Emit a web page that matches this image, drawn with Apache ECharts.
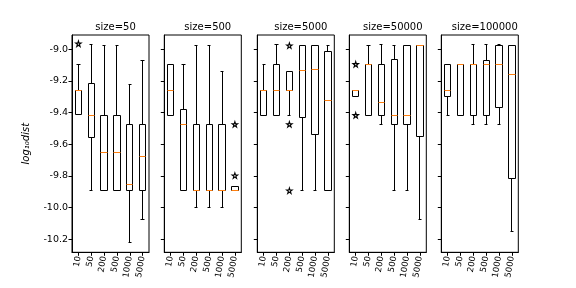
<!DOCTYPE html>
<html>
<head>
<meta charset="utf-8">
<script src="https://cdn.jsdelivr.net/npm/echarts@6/dist/echarts.min.js"></script>
<style>html,body{margin:0;padding:0;background:#fff}#c{width:576px;height:288px}</style>
</head>
<body>
<div id="c"></div>
<script>
// ---- data ----
const panelTitles = ['size=50', 'size=500', 'size=5000', 'size=50000', 'size=100000'];
const categories = ['10', '50', '200', '500', '1000', '5000'];
const yTicks = [-10.2, -10.0, -9.8, -9.6, -9.4, -9.2, -9.0];
// each row: [low whisker, Q1, median, Q3, high whisker]
const box_50 = [
  [-9.415, -9.415, -9.259, -9.259, -9.095],
  [-9.893, -9.56, -9.417, -9.215, -8.967],
  [-9.893, -9.893, -9.651, -9.417, -8.975],
  [-9.893, -9.893, -9.651, -9.417, -8.975],
  [-10.219, -9.893, -9.857, -9.474, -9.221],
  [-10.074, -9.893, -9.68, -9.474, -9.07]
];
const box_500 = [
  [-9.417, -9.417, -9.259, -9.095, -9.095],
  [-9.893, -9.893, -9.474, -9.379, -9.095],
  [-9.998, -9.893, -9.893, -9.474, -8.975],
  [-9.998, -9.893, -9.893, -9.474, -8.975],
  [-9.998, -9.893, -9.893, -9.474, -9.143],
  [-9.893, -9.893, -9.893, -9.868, -9.868]
];
const box_5000 = [
  [-9.417, -9.417, -9.259, -9.259, -9.095],
  [-9.417, -9.417, -9.259, -9.095, -8.967],
  [-9.417, -9.259, -9.259, -9.143, -9.143],
  [-9.893, -9.43, -9.137, -8.975, -8.975],
  [-9.893, -9.537, -9.126, -8.975, -8.975],
  [-9.893, -9.893, -9.326, -9.015, -8.975]
];
const box_50000 = [
  [-9.297, -9.297, -9.259, -9.259, -9.259],
  [-9.417, -9.417, -9.095, -9.095, -8.975],
  [-9.474, -9.417, -9.335, -9.095, -8.967],
  [-9.893, -9.474, -9.417, -9.063, -8.975],
  [-9.893, -9.474, -9.417, -8.975, -8.975],
  [-10.074, -9.55, -8.975, -8.975, -8.975]
];
const box_100000 = [
  [-9.417, -9.297, -9.259, -9.095, -9.095],
  [-9.417, -9.417, -9.095, -9.095, -9.095],
  [-9.474, -9.417, -9.095, -9.095, -8.967],
  [-9.474, -9.417, -9.095, -9.07, -8.967],
  [-9.474, -9.366, -9.095, -8.975, -8.967],
  [-10.148, -9.817, -9.158, -8.975, -8.975]
];
// outliers: [category index, value]
const fliers_50 = [[0, -8.965]];
const fliers_500 = [[5, -9.474], [5, -9.798]];
const fliers_5000 = [[2, -8.977], [2, -9.474], [2, -9.893]];
const fliers_50000 = [[0, -9.095], [0, -9.417]];
const fliers_100000 = [];

const boxes = [box_50, box_500, box_5000, box_50000, box_100000];
const fliers = [fliers_50, fliers_500, fliers_5000, fliers_50000, fliers_100000];

// ---- chart ----
const chart = echarts.init(document.getElementById('c'), null, {renderer: 'canvas'});
const FONT = 'DejaVu Sans';
const gridLefts = [72, 164.3, 257.3, 349.3, 441.3];
const gridW = 77, gridTop = 35, gridH = 217.3;
const yMin = -10.282, yMax = -8.91;
const starPath = 'path://M50,0 L61,35 L98,35 L68,57 L79,91 L50,70 L21,91 L32,57 L2,35 L39,35 Z';

function crisp(v) { return Math.round(v - 0.5) + 0.5; }

function renderBox(params, api) {
  const x = api.value(0);
  const band = api.size([1, 0])[0];
  const bw = band * 0.5, cw = bw * 0.5;
  const cx = api.coord([x, api.value(3)])[0];
  const y = i => crisp(api.coord([x, api.value(i)])[1]);
  const lo = y(1), q1 = y(2), md = y(3), q3 = y(4), hi = y(5);
  const xl = crisp(cx - bw / 2), xr = crisp(cx + bw / 2);
  const xc = crisp(cx);
  const cl = crisp(cx - cw / 2), cr = crisp(cx + cw / 2);
  const st = {stroke: '#000', lineWidth: 1, fill: null};
  const kids = [
    {type: 'line', shape: {x1: xc, y1: hi, x2: xc, y2: q3}, style: st},
    {type: 'line', shape: {x1: xc, y1: q1, x2: xc, y2: lo}, style: st},
    {type: 'line', shape: {x1: cl, y1: hi, x2: cr, y2: hi}, style: st},
    {type: 'line', shape: {x1: cl, y1: lo, x2: cr, y2: lo}, style: st},
    {type: 'rect', shape: {x: xl, y: q3, width: xr - xl, height: q1 - q3}, style: {stroke: '#000', lineWidth: 1, fill: '#fff'}},
    {type: 'line', shape: {x1: xl, y1: md, x2: xr, y2: md}, style: {stroke: '#ff7f0e', lineWidth: 1}}
  ];
  return {type: 'group', children: kids};
}

const grid = [], xAxis = [], yAxis = [], series = [], title = [];
for (let p = 0; p < 5; p++) {
  grid.push({left: gridLefts[p], top: gridTop, width: gridW, height: gridH, show: true,
    borderColor: '#000', borderWidth: 1, backgroundColor: 'transparent', containLabel: false});
  title.push({text: panelTitles[p], left: gridLefts[p] + gridW / 2, top: 17, textAlign: 'center',
    textStyle: {fontFamily: FONT, fontSize: 10, fontWeight: 'normal', color: '#000'}});
  xAxis.push({type: 'category', gridIndex: p, data: categories, boundaryGap: true,
    axisLine: {show: true, lineStyle: {color: '#000', width: 1}},
    axisTick: {show: true, alignWithLabel: true, length: 3.5, lineStyle: {color: '#000'}},
    axisLabel: {rotate: 80, fontFamily: FONT, fontSize: 8.5, color: '#000', margin: 4, interval: 0},
    splitLine: {show: false}});
  yAxis.push({type: 'value', gridIndex: p, min: yMin, max: yMax,
    axisLine: {show: true, lineStyle: {color: '#000', width: 1}},
    axisTick: {show: true, length: 3.5, lineStyle: {color: '#000'}, customValues: yTicks},
    axisLabel: {show: p === 0, fontFamily: FONT, fontSize: 9.5, color: '#000', margin: 4,
      customValues: yTicks, formatter: v => v.toFixed(1)},
    splitLine: {show: false},
    name: p === 0 ? 'log\u2081\u2080dist' : '', nameLocation: 'middle', nameGap: 41,
    nameTextStyle: {fontFamily: FONT, fontSize: 10, fontStyle: 'italic', color: '#000'}});
  series.push({type: 'custom', xAxisIndex: p, yAxisIndex: p, renderItem: renderBox,
    data: boxes[p].map((r, i) => [i].concat(r)), silent: true, clip: false,
    encode: {x: 0, y: [1, 2, 3, 4, 5]}});
  series.push({type: 'scatter', xAxisIndex: p, yAxisIndex: p, data: fliers[p],
    symbol: starPath, symbolSize: 5.5, silent: true, z: 5,
    itemStyle: {color: '#fff', borderColor: '#000', borderWidth: 1.1, opacity: 1}});
}

chart.setOption({animation: false, backgroundColor: '#fff', title, grid, xAxis, yAxis, series});
</script>
</body>
</html>
